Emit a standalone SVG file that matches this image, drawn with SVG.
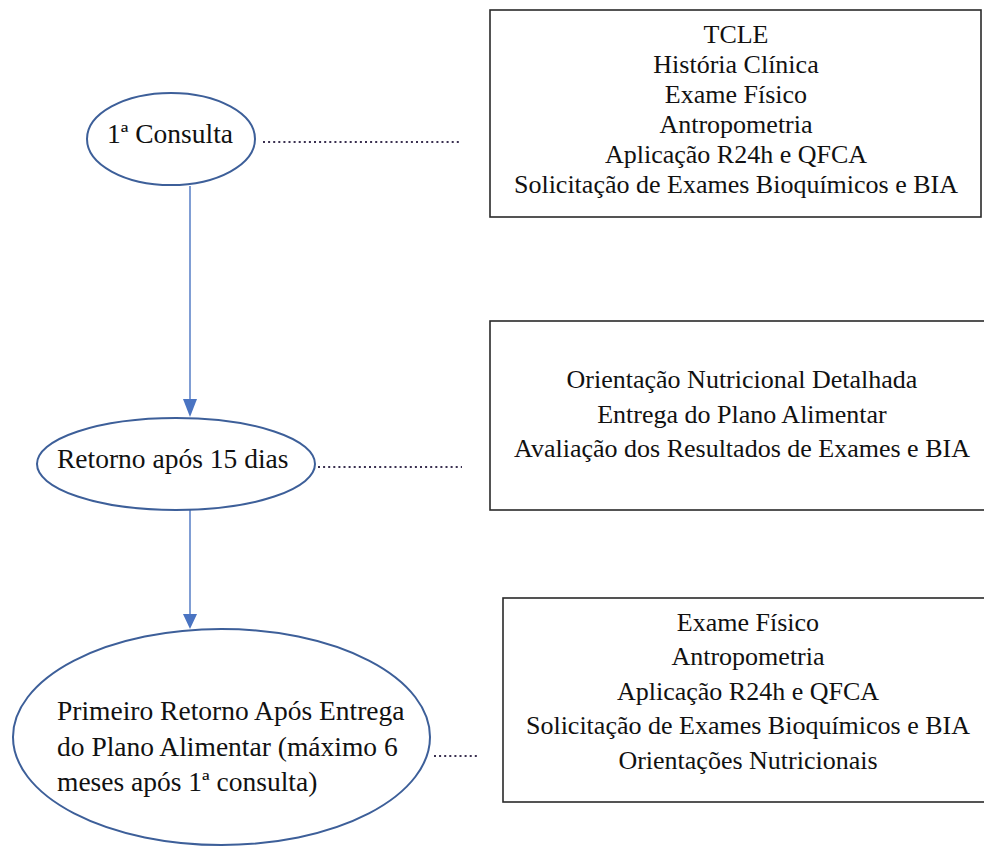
<svg xmlns="http://www.w3.org/2000/svg" width="984" height="847" viewBox="0 0 984 847">
<style>
  .t{font-family:'Liberation Serif','Times New Roman','DejaVu Serif',serif;fill:#111;}
  .bx{font-size:26px;text-anchor:middle;}
  .el{font-size:27.5px;}
  .ell{fill:#fff;stroke:#3d5f99;stroke-width:2;}
  .box{fill:#fff;stroke:#2a2a2a;stroke-width:1.6;}
  .arr{stroke:#4a74c2;stroke-width:1.4;fill:none;}
  .dot{stroke:#3a3050;stroke-width:2;stroke-dasharray:2 3.1;fill:none;}
</style>
<rect width="984" height="847" fill="#fff"/>
<g id="connectors">
  <line class="arr" x1="190" y1="186" x2="190" y2="400"/>
  <path d="M183,399 L197,399 L190,417 z" fill="#4a74c2"/>
  <line class="arr" x1="190" y1="510" x2="190" y2="615"/>
  <path d="M183,614 L197,614 L190,629 z" fill="#4a74c2"/>
  <line class="dot" x1="263" y1="142" x2="460" y2="142"/>
  <line class="dot" x1="318" y1="467" x2="462" y2="467"/>
  <line class="dot" x1="434" y1="756" x2="478" y2="756"/>
</g>
<g id="n1">
  <ellipse class="ell" cx="171" cy="139" rx="84" ry="46"/>
  <text class="t el" x="107" y="143">1ª Consulta</text>
</g>
<g id="n2">
  <ellipse class="ell" cx="176" cy="464" rx="139" ry="46"/>
  <text class="t el" x="57" y="468">Retorno após 15 dias</text>
</g>
<g id="n3">
  <ellipse class="ell" cx="221.5" cy="737" rx="208.5" ry="108"/>
  <text class="t el" x="57" y="720">Primeiro Retorno Após Entrega</text>
  <text class="t el" x="57" y="756">do Plano Alimentar (máximo 6</text>
  <text class="t el" x="57" y="791">meses após 1ª consulta)</text>
</g>
<g id="b1">
  <rect class="box" x="490" y="10" width="491" height="207"/>
  <text class="t bx" x="736" y="43">TCLE</text>
  <text class="t bx" x="736" y="73">História Clínica</text>
  <text class="t bx" x="736" y="103">Exame Físico</text>
  <text class="t bx" x="736" y="133">Antropometria</text>
  <text class="t bx" x="736" y="163">Aplicação R24h e QFCA</text>
  <text class="t bx" x="736" y="193">Solicitação de Exames Bioquímicos e BIA</text>
</g>
<g id="b2">
  <rect class="box" x="490" y="321" width="500" height="189"/>
  <text class="t bx" x="742" y="388">Orientação Nutricional Detalhada</text>
  <text class="t bx" x="742" y="423">Entrega do Plano Alimentar</text>
  <text class="t bx" x="742" y="457">Avaliação dos Resultados de Exames e BIA</text>
</g>
<g id="b3">
  <rect class="box" x="503" y="598" width="490" height="204"/>
  <text class="t bx" x="748" y="631">Exame Físico</text>
  <text class="t bx" x="748" y="665">Antropometria</text>
  <text class="t bx" x="748" y="700">Aplicação R24h e QFCA</text>
  <text class="t bx" x="748" y="734">Solicitação de Exames Bioquímicos e BIA</text>
  <text class="t bx" x="748" y="769">Orientações Nutricionais</text>
</g>
</svg>
